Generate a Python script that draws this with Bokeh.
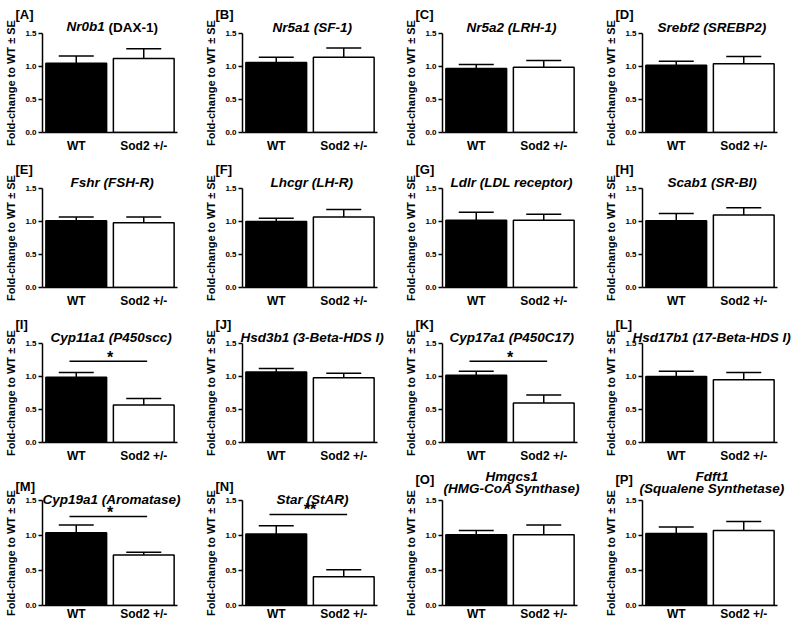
from bokeh.plotting import figure
from bokeh.models import (Range1d, FactorRange, ColumnDataSource, Whisker, TeeHead,
                          Title, FixedTicker, NumeralTickFormatter)
from bokeh.transform import dodge
from bokeh.layouts import gridplot
from bokeh.embed import file_html
from bokeh.resources import INLINE
from bokeh.core.properties import value

# ---------------- data ----------------
tags = ["[A]", "[B]", "[C]", "[D]", "[E]", "[F]", "[G]", "[H]",
        "[I]", "[J]", "[K]", "[L]", "[M]", "[N]", "[O]", "[P]"]
genes = ["Nr0b1", "Nr5a1", "Nr5a2", "Srebf2", "Fshr", "Lhcgr", "Ldlr", "Scab1",
         "Cyp11a1", "Hsd3b1", "Cyp17a1", "Hsd17b1", "Cyp19a1", "Star", "Hmgcs1", "Fdft1"]
proteins = ["(DAX-1)", "(SF-1)", "(LRH-1)", "(SREBP2)", "(FSH-R)", "(LH-R)",
            "(LDL receptor)", "(SR-BI)", "(P450scc)", "(3-Beta-HDS I)", "(P450C17)",
            "(17-Beta-HDS I)", "(Aromatase)", "(StAR)", "(HMG-CoA Synthase)",
            "(Squalene Synthetase)"]
protein_upright = [True] + [False] * 15
two_line_title = [False] * 14 + [True, True]
groups = ["WT", "Sod2 +/-"]
wt_mean = [1.05, 1.06, 0.97, 1.02, 1.01, 1.00, 1.02, 1.01,
           0.99, 1.07, 1.02, 1.00, 1.04, 1.02, 1.01, 1.03]
wt_se = [0.11, 0.08, 0.06, 0.06, 0.06, 0.05, 0.12, 0.11,
         0.07, 0.05, 0.06, 0.08, 0.11, 0.12, 0.06, 0.09]
ko_mean = [1.12, 1.14, 0.99, 1.04, 0.98, 1.07, 1.02, 1.10,
           0.57, 0.98, 0.60, 0.95, 0.72, 0.41, 1.01, 1.07]
ko_se = [0.15, 0.14, 0.10, 0.11, 0.09, 0.11, 0.09, 0.11,
         0.095, 0.07, 0.12, 0.11, 0.04, 0.10, 0.14, 0.13]
sig_marks = ["", "", "", "", "", "", "", "",
             "*", "", "*", "", "*", "**", "", ""]
sig_y = [None, None, None, None, None, None, None, None,
         1.23, None, 1.23, None, 1.27, 1.30, None, None]
y_label = "Fold-change to WT \u00b1 SE"
y_ticks = [0.0, 0.5, 1.0, 1.5]

FONT = "Liberation Sans"
TSIZE = 13.5      # gene title font size (px)
GSIZE = 13        # panel tag font size (px)
LEFT = 42         # frame left inside each panel
TITLE_CENTER = 69.5  # title centre measured from the frame's left edge

# Arial/Liberation Sans Bold advance widths (1/1000 em) for the title texts
_W = {" ": 278, "(": 333, ")": 333, "-": 333, "+": 584, "/": 278, "[": 333, "]": 333}
_W.update({d: 556 for d in "0123456789"})
_W.update(dict(A=722, B=722, C=722, D=722, E=667, F=611, G=778, H=722, I=278, J=556,
               K=722, L=611, M=833, N=722, O=778, P=667, Q=778, R=722, S=667, T=611,
               U=722, V=667, W=944, X=667, Y=667, Z=611))
_W.update(dict(a=556, b=611, c=556, d=611, e=556, f=333, g=611, h=611, i=278, j=278,
               k=556, l=278, m=889, n=611, o=611, p=611, q=611, r=389, s=556, t=333,
               u=611, v=556, w=778, x=556, y=556, z=500))


def tw(s, size=TSIZE):
    return sum(_W.get(c, 556) for c in s) * size / 1000.0


def title(text, style, offset, standoff, size=TSIZE, lh=1.0):
    return Title(text=text, align="left", offset=int(round(offset)), standoff=int(standoff),
                 text_font=FONT, text_font_size=f"{size}px", text_font_style=style,
                 text_color="black", text_line_height=lh)


def centred(text):
    return TITLE_CENTER - tw(text) / 2.0


def make(i):
    last = i >= 12
    h = 158 if last else 155
    p = figure(width=200, height=h, x_range=FactorRange(*groups), y_range=Range1d(0, 1.5),
               output_backend="svg", toolbar_location=None,
               min_border_left=LEFT, min_border_right=23,
               min_border_top=35 if last else 33, min_border_bottom=16 if last else 19)
    p.outline_line_color = None
    p.xgrid.visible = False
    p.ygrid.visible = False
    p.background_fill_color = "white"

    src = ColumnDataSource(dict(
        x=groups,
        top=[wt_mean[i], ko_mean[i]],
        upper=[wt_mean[i] + wt_se[i], ko_mean[i] + ko_se[i]],
        fill=["black", "white"],
    ))
    p.vbar(x="x", top="top", bottom=0, width=0.9, fill_color="fill",
           line_color="black", line_width=1.5, source=src)
    p.add_layout(Whisker(base="x", upper="upper", lower="top", source=src,
                         line_color="black", line_width=1.5, lower_head=None,
                         upper_head=TeeHead(size=35, line_color="black", line_width=1.5)))

    # axes
    xa = p.xaxis[0]
    xa.axis_line_width = 1.5
    xa.axis_line_color = "black"
    xa.major_tick_line_color = None
    xa.major_tick_out = 0
    xa.major_tick_in = 0
    xa.minor_tick_line_color = None
    xa.major_label_standoff = 1 if last else 6
    xa.major_label_text_font = FONT
    xa.major_label_text_font_size = "12px"
    xa.major_label_text_font_style = "bold"
    xa.major_label_text_color = "black"

    ya = p.yaxis[0]
    ya.ticker = FixedTicker(ticks=y_ticks)
    ya.formatter = NumeralTickFormatter(format="0.0")
    ya.axis_line_width = 1.5
    ya.axis_line_color = "black"
    ya.major_tick_line_width = 1.5
    ya.major_tick_out = 4
    ya.major_tick_in = 0
    ya.minor_tick_line_color = None
    ya.major_label_standoff = 2
    ya.major_label_text_font = FONT
    ya.major_label_text_font_size = "8px"
    ya.major_label_text_font_style = "bold"
    ya.major_label_text_color = "black"
    ya.axis_label = y_label
    ya.axis_label_standoff = 5
    ya.axis_label_text_font = FONT
    ya.axis_label_text_font_size = "11px"
    ya.axis_label_text_font_style = "bold"
    ya.axis_label_text_color = "black"

    # titles (first added sits closest to the frame)
    tag_off = -27
    if two_line_title[i]:
        p.add_layout(title(proteins[i], "bold italic", centred(proteins[i]), 10), "above")
        p.add_layout(title(genes[i], "bold italic", centred(genes[i]), -20), "above")
        p.add_layout(title(tags[i], "bold", tag_off, -27, size=GSIZE, lh=0.8), "above")
    elif last:
        full = genes[i] + " " + proteins[i]
        p.add_layout(title(full, "bold italic", centred(full), -13), "above")
        p.add_layout(title(tags[i], "bold", tag_off, 6, size=GSIZE, lh=0.8), "above")
    elif protein_upright[i]:
        full = genes[i] + " " + proteins[i]
        start = centred(full)
        p.add_layout(title(proteins[i], "bold", start + tw(genes[i] + " "), -2), "above")
        p.add_layout(title(tags[i], "bold", tag_off, -6, size=GSIZE, lh=0.8), "above")
        p.add_layout(title(genes[i], "bold italic", start, -52), "above")
    else:
        full = genes[i] + " " + proteins[i]
        p.add_layout(title(full, "bold italic", centred(full), -2), "above")
        p.add_layout(title(tags[i], "bold", tag_off, -6, size=GSIZE, lh=0.8), "above")

    # significance
    if sig_marks[i]:
        s = ColumnDataSource(dict(a=[groups[0]], b=[groups[1]], y=[sig_y[i]],
                                  ty=[sig_y[i] + 0.065], t=[sig_marks[i]]))
        p.segment(x0=dodge("a", -0.1, range=p.x_range), x1=dodge("b", 0.05, range=p.x_range),
                  y0="y", y1="y", line_color="black", line_width=1.5, source=s)
        p.text(x=dodge("a", 0.5, range=p.x_range), y="ty", text="t", source=s,
               text_font=value(FONT), text_font_size="16px", text_font_style="bold",
               text_align="center", text_baseline="alphabetic", text_color="black")
    return p


figs = [make(i) for i in range(16)]
grid = gridplot(figs, ncols=4, toolbar_location=None)
open("out.html", "w").write(file_html(grid, INLINE))
